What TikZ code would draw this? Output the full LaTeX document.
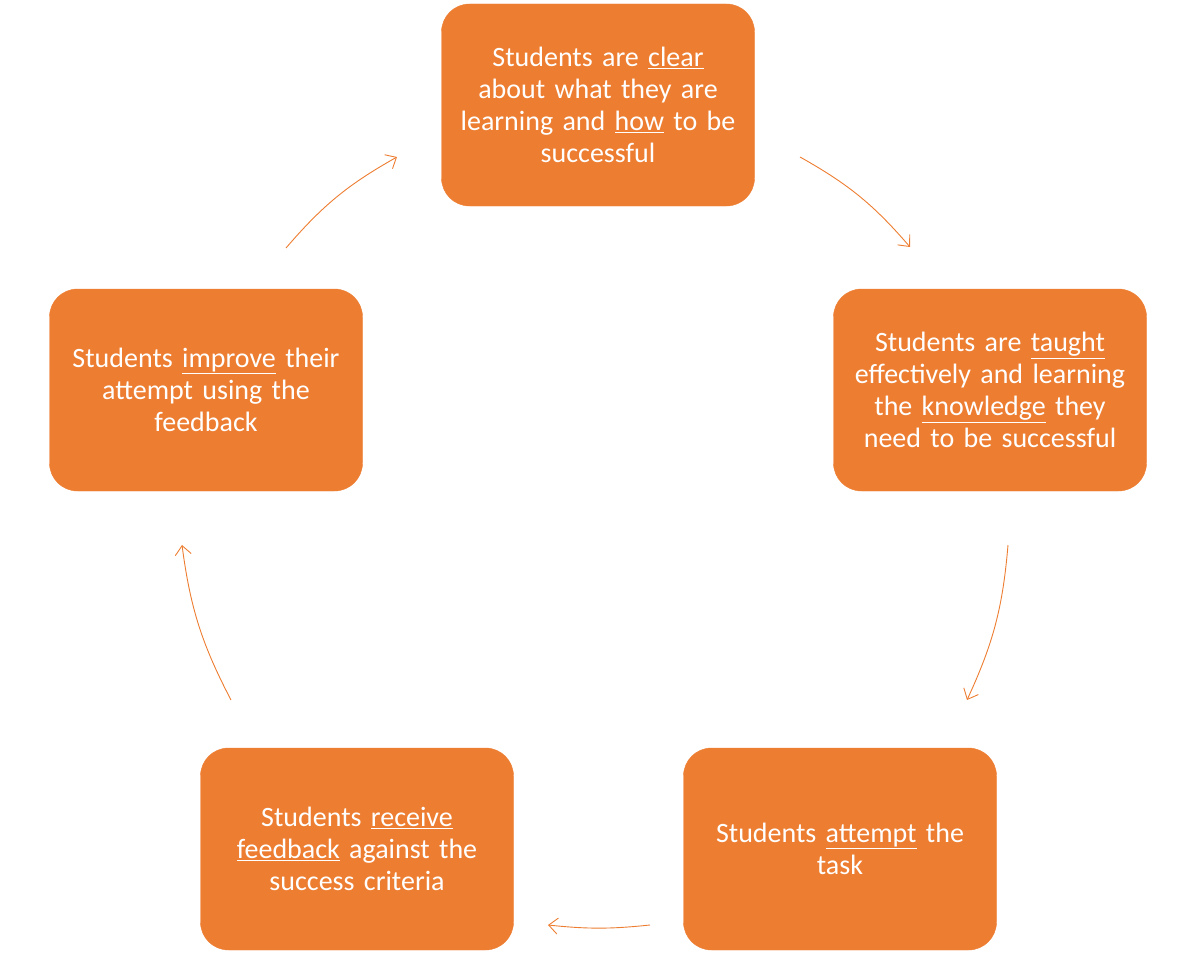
\documentclass[tikz,border=0pt]{standalone}
\usepackage{fontspec}
\setmainfont{Carlito}
\usetikzlibrary{arrows.meta}
\definecolor{org}{HTML}{ED7D31}
\begin{document}
\begin{tikzpicture}[x=1pt,y=-1pt,
 box/.style={fill=org,draw=org,rounded corners=28pt,minimum width=313pt,minimum height=202pt,text=white,font=\fontsize{28}{32}\selectfont,align=center,text width=300pt},
 arr/.style={draw=org,line width=0.9pt,-{Straight Barb[length=9pt,width=16pt]}}]
\useasboundingbox (0,0) rectangle (1200,971);
\node[box] (a) at (598,105) {Students are \underline{clear}\\about what they are\\learning and \underline{how} to be\\successful};
\node[box] (b) at (990,390) {Students are \underline{taught}\\effectively and learning\\the \underline{knowledge} they\\need to be successful};
\node[box] (c) at (840,849) {Students \underline{attempt} the\\task};
\node[box] (d) at (357,849) {Students \underline{receive}\\\underline{feedback} against the\\success criteria};
\node[box] (e) at (206,390) {Students \underline{improve} their\\attempt using the\\feedback};
\coordinate (a1) at (800,157); \coordinate (a2) at (910,247);
\coordinate (b1) at (1008,545); \coordinate (b2) at (967,700);
\coordinate (c1) at (650,925); \coordinate (c2) at (548,925);
\coordinate (d1) at (231,700); \coordinate (d2) at (182,545);
\coordinate (e1) at (286,248); \coordinate (e2) at (397,157);
\draw[arr] (a1) to[bend left=10] (a2);
\draw[arr] (b1) to[bend left=10] (b2);
\draw[arr] (c1) to[bend left=6] (c2);
\draw[arr] (d1) to[bend left=10] (d2);
\draw[arr] (e1) to[bend left=10] (e2);
\end{tikzpicture}
\end{document}
